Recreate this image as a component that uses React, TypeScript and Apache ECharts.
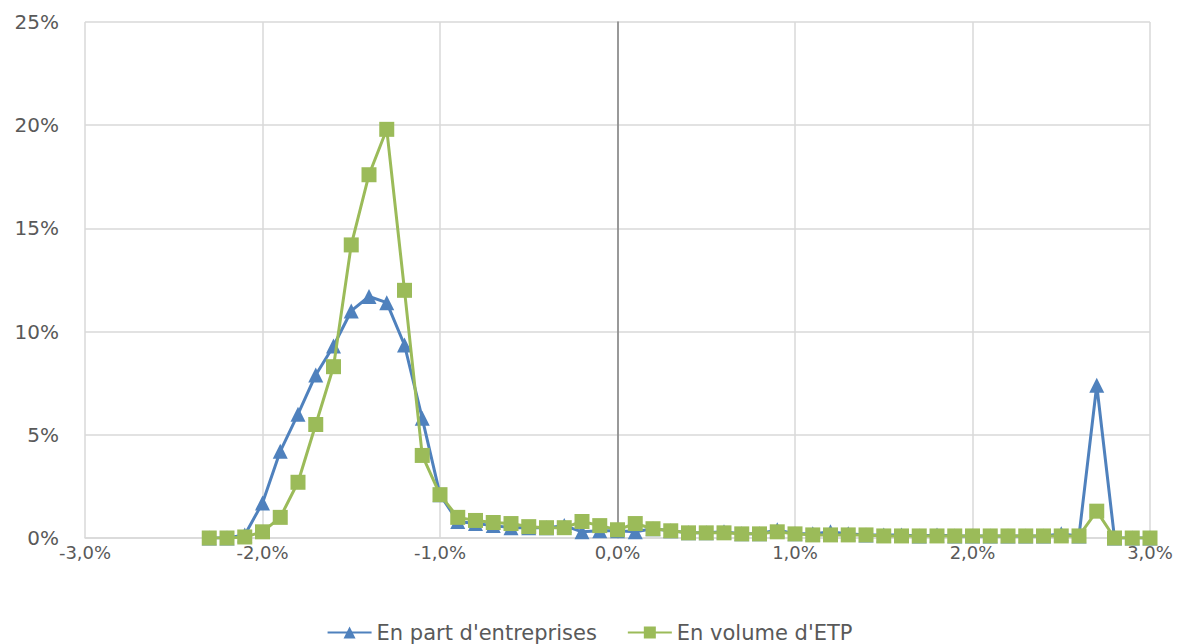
import React, { useEffect, useRef } from "react";
import * as echarts from "echarts";

const xValues = [-2.3, -2.2, -2.1, -2.0, -1.9, -1.8, -1.7, -1.6, -1.5, -1.4, -1.3, -1.2, -1.1, -1.0, -0.9, -0.8, -0.7, -0.6, -0.5, -0.4, -0.3, -0.2, -0.1, 0.0, 0.1, 0.2, 0.3, 0.4, 0.5, 0.6, 0.7, 0.8, 0.9, 1.0, 1.1, 1.2, 1.3, 1.4, 1.5, 1.6, 1.7, 1.8, 1.9, 2.0, 2.1, 2.2, 2.3, 2.4, 2.5, 2.6, 2.7, 2.8, 2.9, 3.0];

const partEntreprises = [0, 0, 0.15, 1.7, 4.2, 6.0, 7.9, 9.3, 11.0, 11.7, 11.4, 9.35, 5.8, 2.1, 0.8, 0.7, 0.6, 0.5, 0.5, 0.5, 0.6, 0.3, 0.35, 0.35, 0.3, 0.45, 0.35, 0.25, 0.25, 0.3, 0.2, 0.2, 0.4, 0.2, 0.2, 0.3, 0.2, 0.15, 0.15, 0.15, 0.1, 0.15, 0.1, 0.1, 0.1, 0.1, 0.1, 0.1, 0.2, 0.1, 7.4, 0, 0, 0];

const volumeETP = [0, 0, 0.05, 0.3, 1.0, 2.7, 5.5, 8.3, 14.2, 17.6, 19.8, 12.0, 4.0, 2.1, 1.0, 0.85, 0.75, 0.7, 0.55, 0.5, 0.5, 0.8, 0.6, 0.4, 0.7, 0.45, 0.35, 0.25, 0.25, 0.25, 0.2, 0.2, 0.3, 0.2, 0.15, 0.15, 0.15, 0.15, 0.1, 0.1, 0.1, 0.1, 0.1, 0.1, 0.1, 0.1, 0.1, 0.1, 0.1, 0.1, 1.3, 0, 0, 0];

const xTickLabels = ["-3,0%", "-2,0%", "-1,0%", "0,0%", "1,0%", "2,0%", "3,0%"];

const seriesNames = ["En part d'entreprises", "En volume d'ETP"];

const FONT = "DejaVu Sans";

function fmtX(v: any) {
  const n = Math.round(Number(v)) + 3;
  return xTickLabels[n] ?? "";
}

export default function App() {
  const ref = useRef<HTMLDivElement>(null);
  useEffect(() => {
    if (!ref.current) return;
    const chart = echarts.init(ref.current, undefined, { renderer: "svg" });
    chart.setOption({
      animation: false,
      backgroundColor: "#ffffff",
      grid: { left: 85, right: 29, top: 22, bottom: 106, containLabel: false },
      legend: {
        top: 617,
        left: "center",
        itemWidth: 44,
        itemHeight: 15,
        itemGap: 30,
        textStyle: { fontFamily: FONT, fontSize: 21, color: "#595959" },
        data: seriesNames,
      },
      xAxis: {
        type: "value",
        min: -3,
        max: 3,
        interval: 1,
        axisLine: { show: true, onZero: false, lineStyle: { color: "#d9d9d9", width: 1.5 } },
        axisTick: { show: false },
        splitLine: { show: true, lineStyle: { color: "#d9d9d9", width: 1.5 } },
        axisLabel: {
          fontFamily: FONT,
          fontSize: 18,
          color: "#595959",
          margin: 5,
          formatter: fmtX,
        },
      },
      yAxis: [
        {
          type: "value",
          min: 0,
          max: 25,
          interval: 5,
          position: "left",
          axisLine: { show: false, onZero: false },
          axisTick: { show: false },
          splitLine: { show: true, lineStyle: { color: "#d9d9d9", width: 1.5 } },
          axisLabel: {
            fontFamily: FONT,
            fontSize: 20,
            color: "#595959",
            margin: 26,
            formatter: (v: number) => v + "%",
          },
        },
        {
          type: "value",
          min: 0,
          max: 25,
          interval: 5,
          position: "left",
          axisLine: { show: true, onZero: true, lineStyle: { color: "#808080", width: 1.5 } },
          axisTick: { show: false },
          axisLabel: { show: false },
          splitLine: { show: false },
        },
      ],
      series: [
        {
          name: seriesNames[0],
          type: "line",
          data: xValues.map((x, i) => [x, partEntreprises[i]]),
          symbol: "triangle",
          symbolSize: 15,
          lineStyle: { color: "#4f81bd", width: 3 },
          itemStyle: { color: "#4f81bd" },
          z: 2,
        },
        {
          name: seriesNames[1],
          type: "line",
          data: xValues.map((x, i) => [x, volumeETP[i]]),
          symbol: "rect",
          symbolSize: 15,
          lineStyle: { color: "#9bbb59", width: 3 },
          itemStyle: { color: "#9bbb59" },
          z: 3,
        },
      ],
    });
    return () => chart.dispose();
  }, []);
  return <div ref={ref} style={{ width: 1179, height: 644, position: "absolute", left: 0, top: 0 }} />;
}
